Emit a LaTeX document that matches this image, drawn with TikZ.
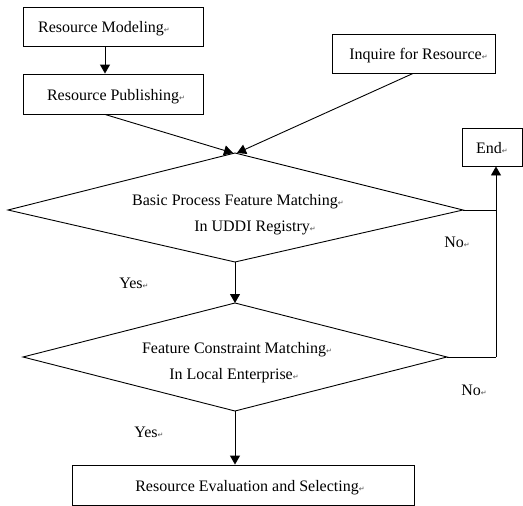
\documentclass[tikz,border=0pt]{standalone}
\usepackage{fontspec}
\setmainfont{Liberation Serif}
\newfontfamily\djv{DejaVu Sans}
\usetikzlibrary{arrows.meta}
\newcommand\pmk{{\djv\fontsize{7}{7}\selectfont\color{black!70}↵}}
\begin{document}
\begin{tikzpicture}[x=1pt,y=-1pt,
  box/.style={draw,line width=0.9pt,inner sep=0pt,text height=14pt,text depth=1.5pt,font=\fontsize{16}{19}\selectfont},
  txt/.style={inner sep=0pt,text height=14pt,text depth=1.5pt,font=\fontsize{16}{19}\selectfont},
  line/.style={line width=0.9pt},
  arr/.style={line width=0.9pt,-{Triangle[length=9pt,width=10pt]}}]
\useasboundingbox (0,0) rectangle (523,506);
% boxes
\node[box,minimum width=180pt,minimum height=39pt] (model) at (113,26.5) {\hspace*{-18pt}Resource Modeling\pmk};
\node[box,minimum width=180pt,minimum height=40pt] (pub) at (113,94) {\hspace*{6pt}Resource Publishing\pmk};
\node[box,minimum width=163pt,minimum height=39pt] (inq) at (413.5,53.5) {\hspace*{10pt}Inquire for Resource\pmk};
\node[box,minimum width=60pt,minimum height=38pt] (end) at (492,147) {End\pmk};
\node[box,minimum width=342pt,minimum height=40pt] (eval) at (243,485) {\hspace*{14pt}Resource Evaluation and Selecting\pmk};
% diamond 1
\coordinate (d1l) at (8,210);
\coordinate (d1t) at (235,153);
\coordinate (d1r) at (463,210);
\coordinate (d1b) at (235,262);
\draw[line] (d1l) -- (d1t) -- (d1r) -- (d1b) -- cycle;
\node[txt] (d1a) at (238,199) {Basic Process Feature Matching\pmk};
\node[txt] (d1c) at (255,225) {In UDDI Registry\pmk};
% diamond 2
\coordinate (d2l) at (23,357);
\coordinate (d2t) at (235,303);
\coordinate (d2r) at (447,357);
\coordinate (d2b) at (235,411);
\draw[line] (d2l) -- (d2t) -- (d2r) -- (d2b) -- cycle;
\node[txt] (d2a) at (237,347) {Feature Constraint Matching\pmk};
\node[txt] (d2c) at (234,373) {In Local Enterprise\pmk};
% connectors
\draw[arr] (model.south-|105,0) -- (pub.north-|105,0);
\draw[arr] (pub.south-|105,0) -- ([xshift=-2pt]d1t);
\draw[arr] (inq.south-|413,0) -- ([xshift=2pt]d1t);
\draw[arr] (d1b) -- (d2t);
\draw[arr] (d2b) -- (eval.north-|d2b);
\coordinate (j1) at (496,210);
\coordinate (j2) at (496,357);
\draw[line] (d1r) -- (j1);
\draw[line] (d2r) -- (j2);
\draw[arr] (j2) -- (end.south-|j2);
% labels
\node[txt] (yes1) at (134,282) {Yes\pmk};
\node[txt] (no1) at (457,241) {No\pmk};
\node[txt] (yes2) at (149,431) {Yes\pmk};
\node[txt] (no2) at (474,389) {No\pmk};
\end{tikzpicture}
\end{document}
